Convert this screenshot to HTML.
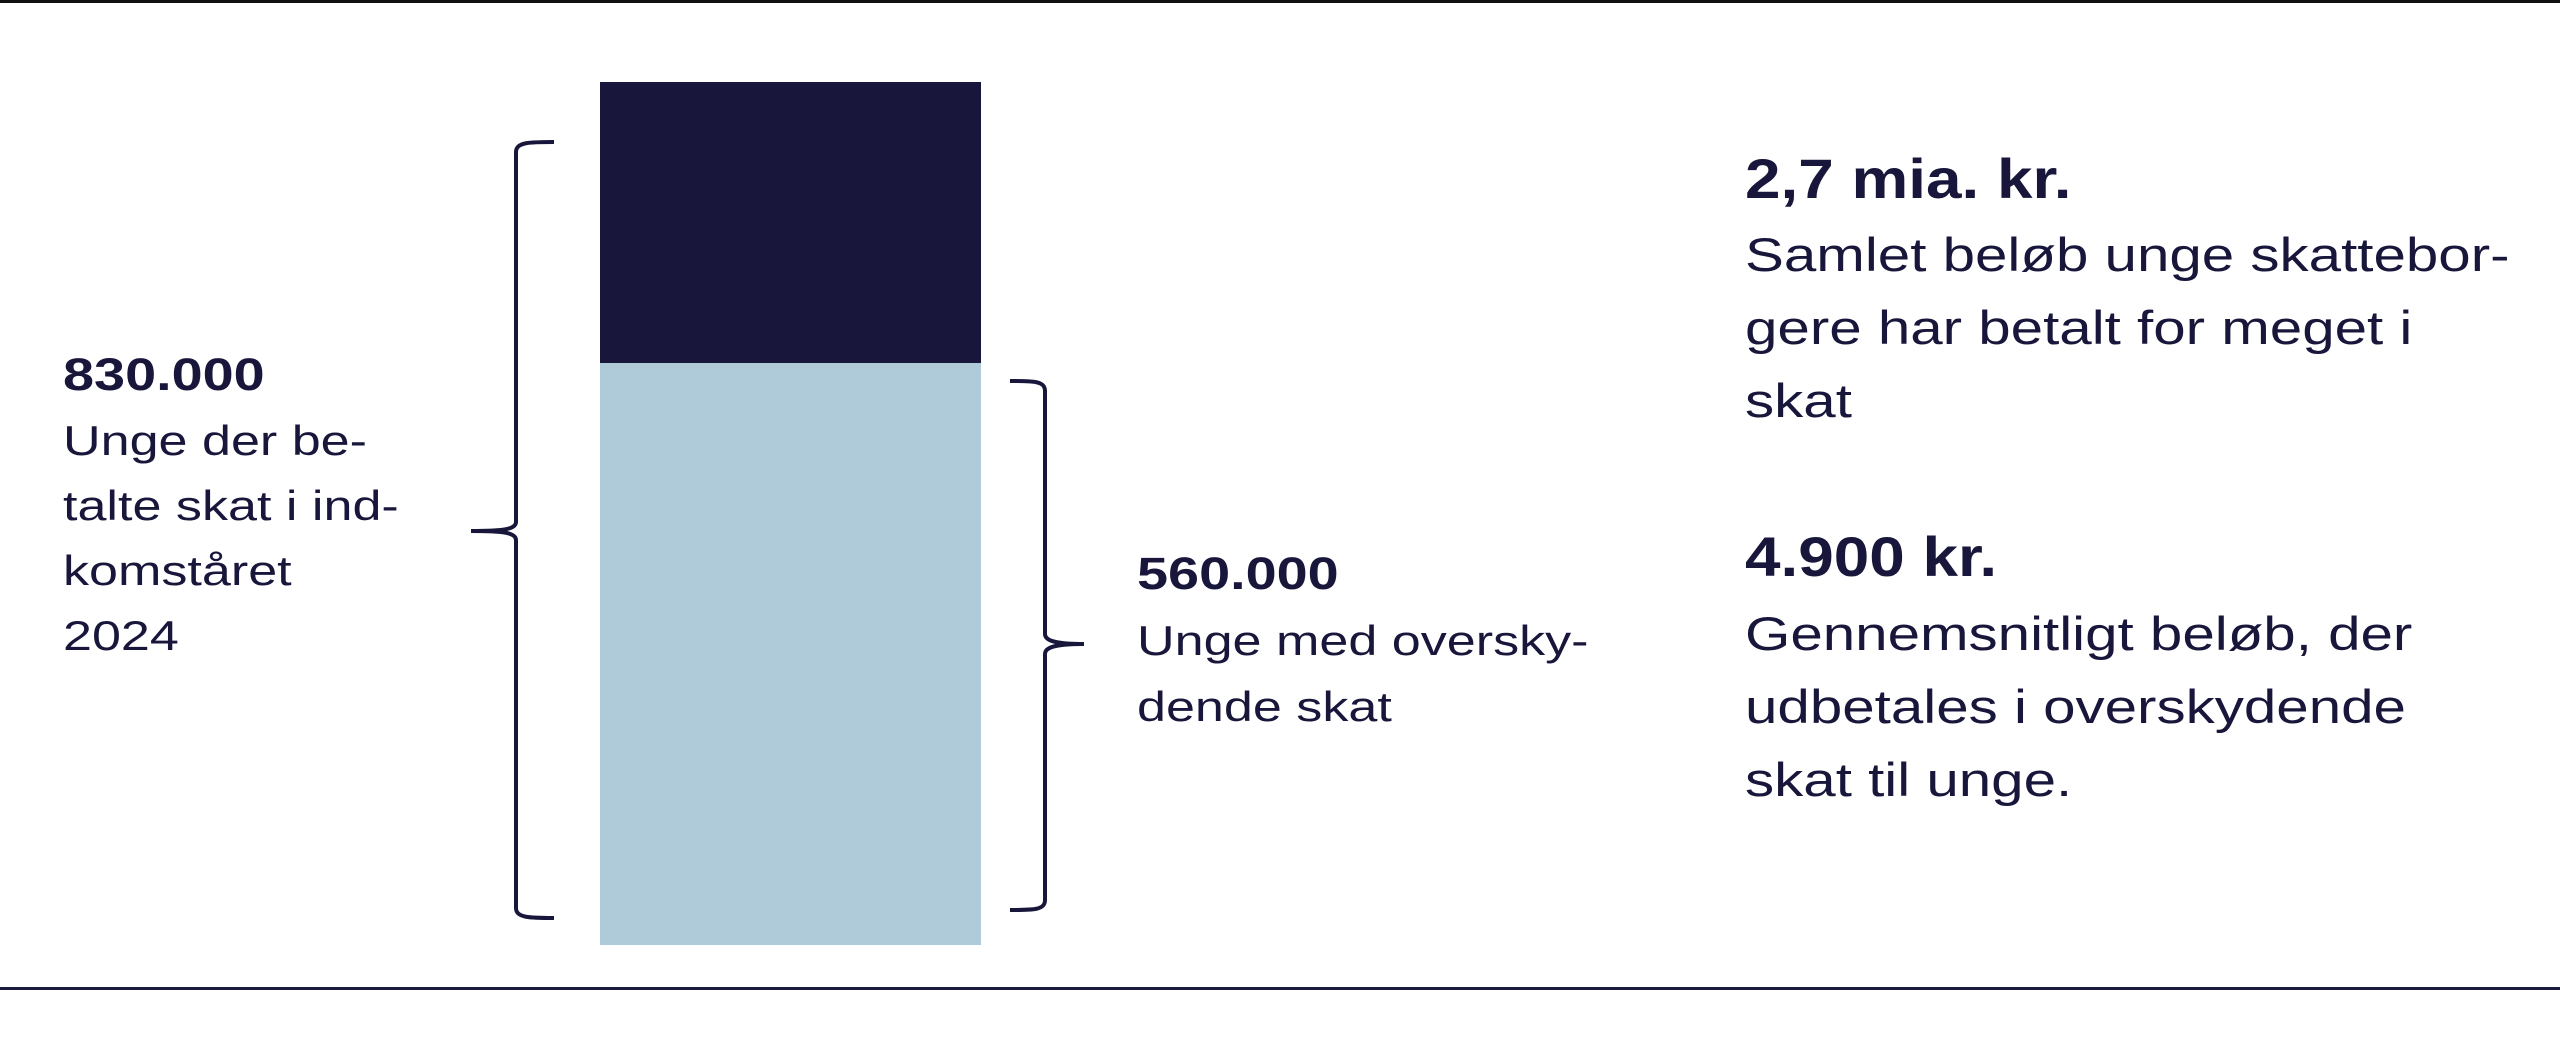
<!DOCTYPE html>
<html><head><meta charset="utf-8"><style>
html,body{margin:0;padding:0;background:#fff;}
body{width:2560px;height:1058px;position:relative;overflow:hidden;font-family:"Liberation Sans",sans-serif;color:#18173b;}
.t{position:absolute;white-space:nowrap;transform-origin:0 0;transform:scaleX(1.24);}
.b{font-weight:bold;}
.h{transform:scaleX(1.14);}
</style></head><body>
<div style="position:absolute;left:0;top:0;width:2560px;height:3px;background:#111;"></div>
<div style="position:absolute;left:0;top:987px;width:2560px;height:3px;background:#1a1a3e;"></div>
<div style="position:absolute;left:600px;top:82px;width:381px;height:281px;background:#18173b;"></div>
<div style="position:absolute;left:600px;top:363px;width:381px;height:582px;background:#afcbd9;"></div>
<svg width="2560" height="1058" style="position:absolute;left:0;top:0" fill="none" stroke="#18173b" stroke-width="4">
<path d="M554,142 C530,142 516,142 516,152 L516,522 C516,530 500,531 471,531 C500,531 516,532 516,540 L516,908 C516,918 530,918 554,918"/>
<path d="M1010,381 C1034,381 1045,381 1045,391 L1045,634 C1045,642 1060,644 1084,644 C1060,644 1045,646 1045,654 L1045,900 C1045,910 1034,910 1010,910"/>
</svg>
<div class="t b" style="left:63px;top:342px;font-size:45px;line-height:65px;">830.000</div>
<div class="t" style="left:63px;top:408px;font-size:42px;line-height:65px;">Unge der be-<br>talte skat i ind-<br>komståret<br>2024</div>
<div class="t b" style="left:1137px;top:541px;font-size:45px;line-height:65px;">560.000</div>
<div class="t" style="left:1137px;top:608px;font-size:42px;line-height:66px;">Unge med oversky-<br>dende skat</div>
<div class="t b h" style="left:1745px;top:142px;font-size:56px;line-height:73px;">2,7 mia. kr.</div>
<div class="t" style="left:1745px;top:218px;font-size:47px;line-height:73px;">Samlet beløb unge skattebor-<br>gere har betalt for meget i<br>skat</div>
<div class="t b h" style="left:1745px;top:520px;font-size:56px;line-height:73px;">4.900 kr.</div>
<div class="t" style="left:1745px;top:597px;font-size:47px;line-height:73px;">Gennemsnitligt beløb, der<br>udbetales i overskydende<br>skat til unge.</div>
</body></html>
